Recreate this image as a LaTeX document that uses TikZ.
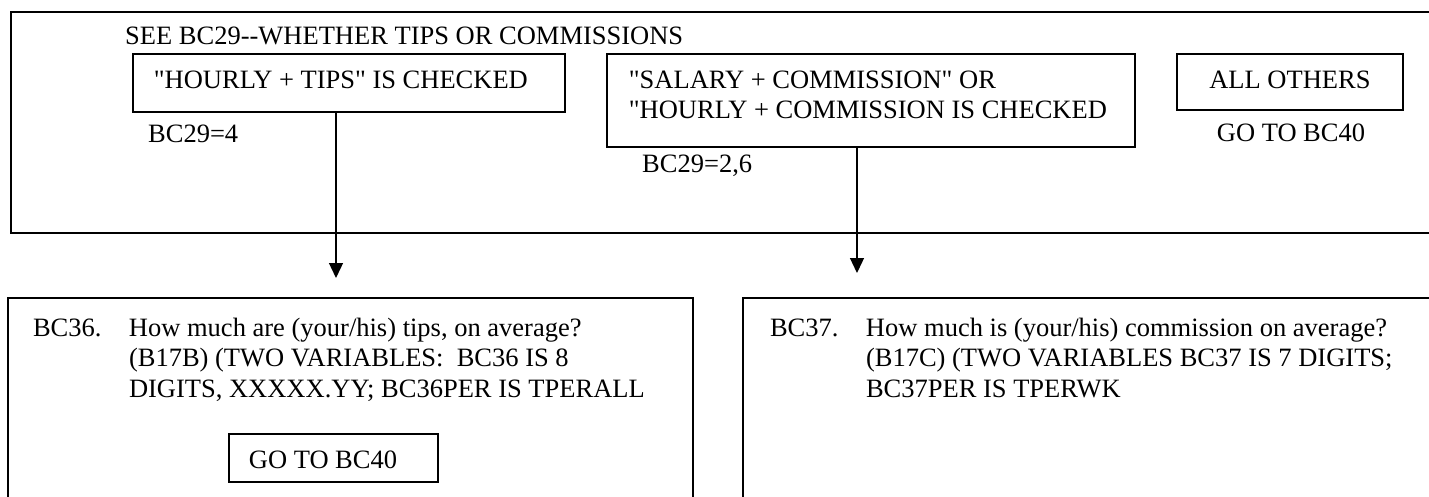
\documentclass[tikz,border=0pt]{standalone}
\usepackage{fontspec}
\setmainfont{Liberation Serif}[Ligatures=TeXOff]
\usepackage{tikz}
\usetikzlibrary{shapes}
\usetikzlibrary{arrows.meta}
\tikzstyle{frame} = [rectangle, draw=black, line width=2pt, anchor=north west, inner sep=0pt]
\tikzstyle{choice} = [rectangle, draw=black, line width=1.8pt, anchor=north west,
inner ysep=0pt, align=flush left, font=\fontsize{26.5}{30}\selectfont]
\tikzstyle{question} = [frame, inner ysep=0pt, align=flush left, font=\fontsize{26.5}{30.5}\selectfont]
\tikzstyle{caption} = [inner sep=0pt, anchor=base west, font=\fontsize{26.5}{30}\selectfont]
\tikzset{>={Triangle[length=15pt,width=14pt]}}

\begin{document}
\begin{tikzpicture}[x=1pt,y=-1pt]
                \clip (0,0) rectangle (1429,496);
                \node[frame, minimum width=1460pt, minimum height=221pt] (check) at (10,11) {} ; %
                \node[caption] (see) at (125,44) {SEE BC29--WHETHER TIPS OR COMMISSIONS}; %

                \node[choice, inner xsep=21pt, text width=390pt, text height=35pt, text depth=23pt] (box1) at (132,53)
                  {\mbox{"HOURLY + TIPS" IS CHECKED}} ; %
                \node[caption] (nbox1) at (148,142) {BC29=4}; %

                \node[choice, inner xsep=22pt, text width=484pt, text height=35pt, text depth=58pt] (box2) at (606,53)
                  {\mbox{"SALARY + COMMISSION" OR}\\\mbox{"HOURLY + COMMISSION IS CHECKED}} ; %
                \node[caption] (nbox2) at (642,172) {BC29=2,6}; %

                \node[choice, inner xsep=5pt, text width=216pt, text height=35pt, text depth=21pt, align=flush center] (box3) at (1176,53)
                  {ALL OTHERS} ; %
                \node[caption, anchor=base] (nbox3) at (1291,141) {GO TO BC40}; %

                \node[question, inner xsep=25pt, text width=635pt, text height=38pt, text depth=200pt] (q36) at (7,297)
                  {\begin{tabular}[t]{@{}p{96pt}@{}l@{}}
                   BC36. & How much are (your/his) tips, on average?\\
                         & (B17B) (TWO VARIABLES:\ \ BC36 IS 8\\
                         & DIGITS, XXXXX.YY; BC36PER IS TPERALL
                   \end{tabular}} ; %
                \node[choice, inner xsep=20pt, text width=169pt, text height=35pt, text depth=13pt] (go36) at (228,433)
                  {GO TO BC40} ; %

                \node[question, inner xsep=27pt, text width=664pt, text height=38pt, text depth=200pt] (q37) at (742,297)
                  {\begin{tabular}[t]{@{}p{96pt}@{}l@{}}
                   BC37. & How much is (your/his) commission on average?\\
                         & (B17C) (TWO VARIABLES BC37 IS 7 DIGITS;\\
                         & BC37PER IS TPERWK
                   \end{tabular}} ; %

                \coordinate (tip36) at (336,278) ; %
                \coordinate (tip37) at (857,273) ; %
                \draw[->, line width=1.3pt] (box1.south -| tip36) -- (tip36) ;
                \draw[->, line width=1.3pt] (box2.south -| tip37) -- (tip37) ;
            \end{tikzpicture}
\end{document}
